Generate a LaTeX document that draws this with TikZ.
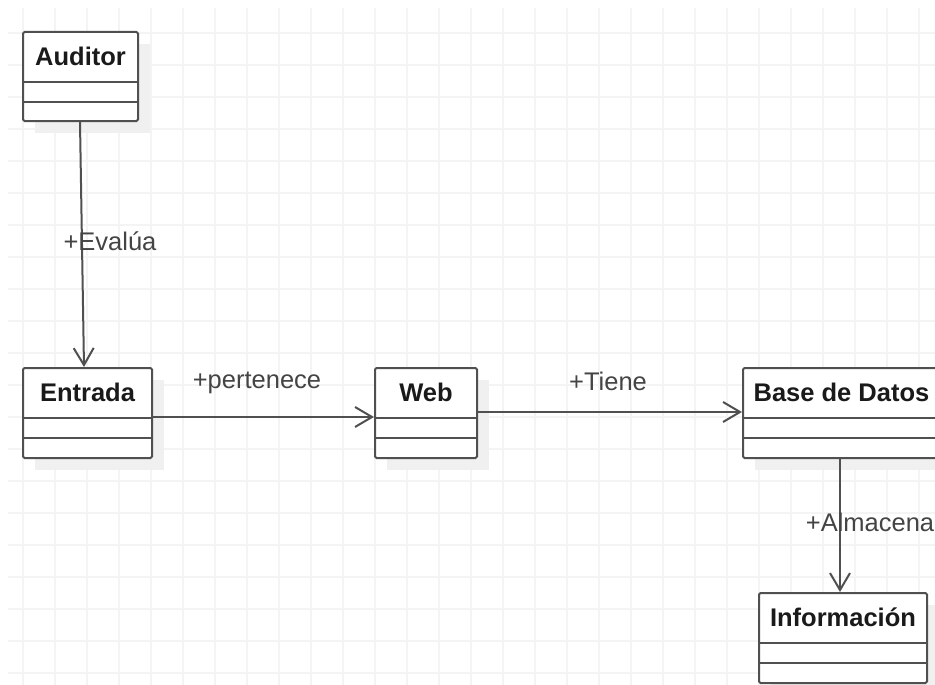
\documentclass[tikz,border=0pt]{standalone}
\usepackage{fontspec}
\setmainfont{Liberation Sans}
\usetikzlibrary{arrows.meta,calc}

\definecolor{gridc}{HTML}{F4F4F4}
\definecolor{shadowc}{HTML}{F0F0F0}
\definecolor{edgec}{HTML}{505050}
\definecolor{titlec}{HTML}{1A1A1A}
\definecolor{labelc}{HTML}{444444}

\tikzset{
  gridline/.style={draw=gridc, line width=1.5pt},
  classbox/.style={draw=edgec, line width=2pt, fill=white, rounded corners=1.5pt,
                   inner sep=0pt, anchor=north west},
  classtitle/.style={font=\fontsize{25.5}{30}\selectfont\bfseries, text=titlec, inner sep=0pt},
  divider/.style={draw=edgec, line width=2pt},
  assoc/.style={draw=edgec, line width=2pt,
                -{Straight Barb[length=17pt, width=20pt, line width=2pt]}},
  assoclabel/.style={font=\fontsize{25.5}{30}\selectfont, text=labelc, inner sep=0pt},
}

% UML class: name, left, top, width, height, title
\newcommand{\umlclass}[6]{%
  \fill[shadowc] (#2+13,#3+13) rectangle (#2+#4+13,#3+#5+13);
  \node[classbox, minimum width=#4pt, minimum height=#5pt] (#1) at (#2,#3) {};
  \node[classtitle] (#1-title) at ($(#1.north)+(0,25.5)$) {#6};
  \draw[divider] ($(#1.north west)+(0,51)$) -- ($(#1.north east)+(0,51)$);
  \draw[divider] ($(#1.north west)+(0,71)$) -- ($(#1.north east)+(0,71)$);
}

\begin{document}
\begin{tikzpicture}[x=1pt, y=-1pt]
  \useasboundingbox (0,0) rectangle (935,685);
  \fill[white] (0,0) rectangle (935,685);

  % background grid
  \foreach \gx in {23,55,...,919} \draw[gridline] (\gx,8) -- (\gx,685);
  \foreach \gy in {33,65,...,673} \draw[gridline] (8,\gy) -- (935,\gy);

  % classes
  \umlclass{aud}{22}{31}{115}{89}{Auditor}
  \umlclass{ent}{22}{367}{129}{90}{Entrada}
  \umlclass{web}{374}{367}{102}{90}{Web}
  \umlclass{bdd}{742}{367}{197}{90}{Base de Datos}
  \umlclass{inf}{758}{592}{168}{90}{Información}

  % associations
  \draw[assoc] ($(aud.south west)+(58,0)$) -- ($(ent.north west)+(62,0)$);
  \draw[assoc] ($(ent.north east)+(0,50)$) -- ($(web.north west)+(0,50)$);
  \draw[assoc] ($(web.north east)+(0,45)$) -- ($(bdd.north west)+(0,45)$);
  \draw[assoc] ($(bdd.south west)+(98,0)$) -- ($(inf.north west)+(82,0)$);

  % association roles
  \node[assoclabel] (l-evalua) at (110,241) {+Evalúa};
  \node[assoclabel] (l-pert) at (257,383) {+pertenece};
  \node[assoclabel] (l-tiene) at (608,381) {+Tiene};
  \node[assoclabel] (l-alm) at (870,522) {+Almacena};
\end{tikzpicture}
\end{document}
